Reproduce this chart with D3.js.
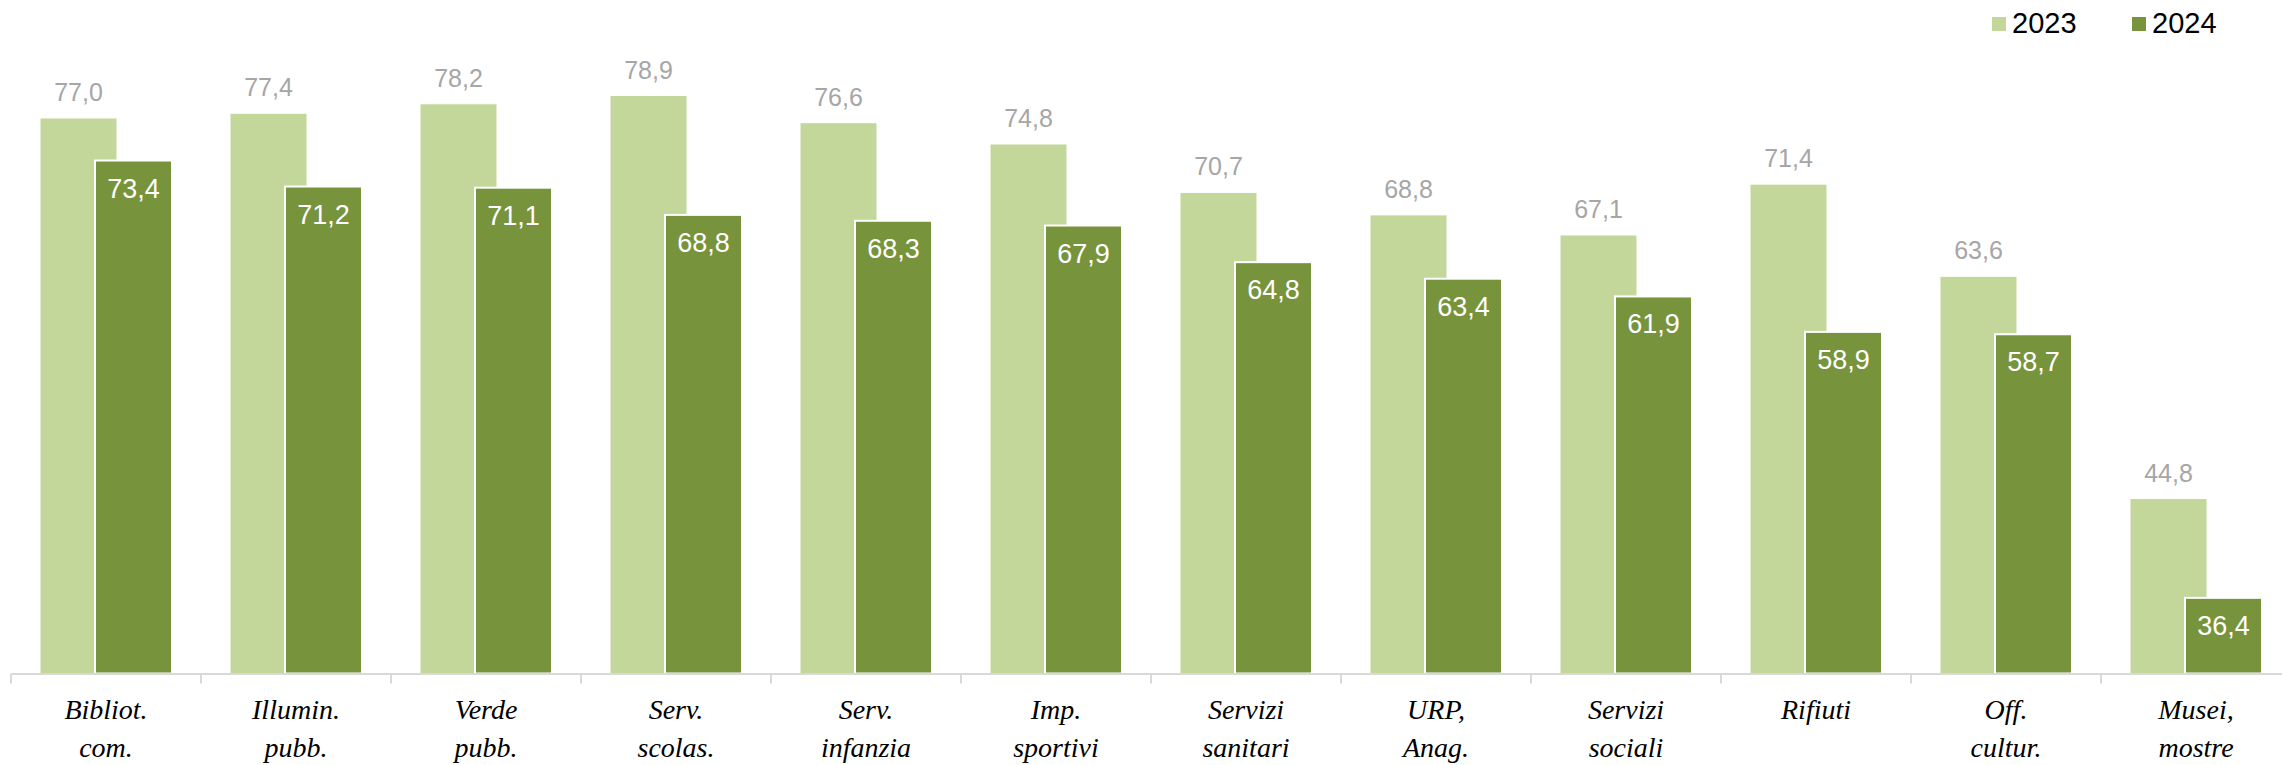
<!DOCTYPE html>
<html>
<head>
<meta charset="utf-8">
<script src="https://cdn.jsdelivr.net/npm/d3@7"></script>
<style>
  html, body { margin: 0; padding: 0; background: #ffffff; overflow: hidden; }
  svg { display: block; }
</style>
</head>
<body>
<svg id="chart" width="2282" height="765"></svg>
<script>
// ---- data ----
const categories = [
  ["Bibliot.", "com."],
  ["Illumin.", "pubb."],
  ["Verde", "pubb."],
  ["Serv.", "scolas."],
  ["Serv.", "infanzia"],
  ["Imp.", "sportivi"],
  ["Servizi", "sanitari"],
  ["URP,", "Anag."],
  ["Servizi", "sociali"],
  ["Rifiuti"],
  ["Off.", "cultur."],
  ["Musei,", "mostre"]
];
const seriesNames = ["2023", "2024"];
const values2023 = [77.0, 77.4, 78.2, 78.9, 76.6, 74.8, 70.7, 68.8, 67.1, 71.4, 63.6, 44.8];
const values2024 = [73.4, 71.2, 71.1, 68.8, 68.3, 67.9, 64.8, 63.4, 61.9, 58.9, 58.7, 36.4];
const yDomain = [30, 80];

// ---- styles ----
const colorLight = "#c4d79b";
const colorDark = "#77933c";
const fmt = v => v.toFixed(1).replace(".", ",");

const svg = d3.select("#chart");

const keys = categories.map((c, i) => "c" + i);
const x = d3.scaleBand().domain(keys).range([11, 2291]).paddingInner(0).paddingOuter(0);
const y = d3.scaleLinear().domain(yDomain).range([673.5, 82.5]);

const bw = x.bandwidth();
const sideGap = bw * 29 / 190;
const barW = bw * 77 / 190;
const shift = bw * 55 / 190;

// light bars (2023)
svg.append("g").selectAll("rect").data(values2023).join("rect")
  .attr("x", (d, i) => x(keys[i]) + sideGap)
  .attr("y", d => y(d))
  .attr("width", barW)
  .attr("height", d => y(yDomain[0]) - y(d))
  .attr("fill", colorLight)
  .attr("stroke", "#ffffff")
  .attr("stroke-width", 1);

// dark bars (2024)
svg.append("g").selectAll("rect").data(values2024).join("rect")
  .attr("x", (d, i) => x(keys[i]) + sideGap + shift)
  .attr("y", d => y(d))
  .attr("width", barW)
  .attr("height", d => y(yDomain[0]) - y(d))
  .attr("fill", colorDark)
  .attr("stroke", "#ffffff")
  .attr("stroke-width", 2);

// labels 2023
svg.append("g").selectAll("text").data(values2023).join("text")
  .attr("x", (d, i) => x(keys[i]) + sideGap + barW / 2)
  .attr("y", d => y(d) - 17)
  .attr("text-anchor", "middle")
  .attr("font-family", "'Liberation Sans', Arial, sans-serif")
  .attr("font-size", 25)
  .attr("fill", "#a6a6a6")
  .text(d => fmt(d));

// labels 2024
svg.append("g").selectAll("text").data(values2024).join("text")
  .attr("x", (d, i) => x(keys[i]) + sideGap + shift + barW / 2)
  .attr("y", d => y(d) + 37)
  .attr("text-anchor", "middle")
  .attr("font-family", "'Liberation Sans', Arial, sans-serif")
  .attr("font-size", 27)
  .attr("fill", "#ffffff")
  .text(d => fmt(d));

// axis
const axisY = y(yDomain[0]);
const axis = svg.append("g").attr("transform", `translate(0,${axisY})`)
  .call(d3.axisBottom(x).tickSize(0).tickFormat(""));
axis.select(".domain").attr("stroke", "#d9d9d9").attr("stroke-width", 2);

// tick marks at band boundaries
svg.append("g").selectAll("line").data(keys).join("line")
  .attr("x1", d => x(d)).attr("x2", d => x(d))
  .attr("y1", axisY).attr("y2", axisY + 10)
  .attr("stroke", "#d9d9d9").attr("stroke-width", 2);

// category labels
const lab = svg.append("g").selectAll("text").data(categories).join("text")
  .attr("text-anchor", "middle")
  .attr("font-family", "'Segoe Print', 'Ink Free', 'Comic Sans MS', cursive")
  .attr("font-style", "italic")
  .attr("font-size", 28)
  .attr("fill", "#000000");
lab.each(function (d, i) {
  const t = d3.select(this);
  d.forEach((line, j) => {
    t.append("tspan")
      .attr("x", x(keys[i]) + bw / 2)
      .attr("y", 719 + j * 38)
      .text(line);
  });
});

// legend
const legend = svg.append("g");
const legendX = [1992, 2132];
const legendColors = [colorLight, colorDark];
seriesNames.forEach((n, i) => {
  legend.append("rect")
    .attr("x", legendX[i]).attr("y", 17)
    .attr("width", 14).attr("height", 14)
    .attr("fill", legendColors[i]);
  legend.append("text")
    .attr("x", legendX[i] + 20).attr("y", 33)
    .attr("font-family", "'Liberation Sans', Arial, sans-serif")
    .attr("font-size", 29)
    .attr("fill", "#000000")
    .text(n);
});
</script>
</body>
</html>
